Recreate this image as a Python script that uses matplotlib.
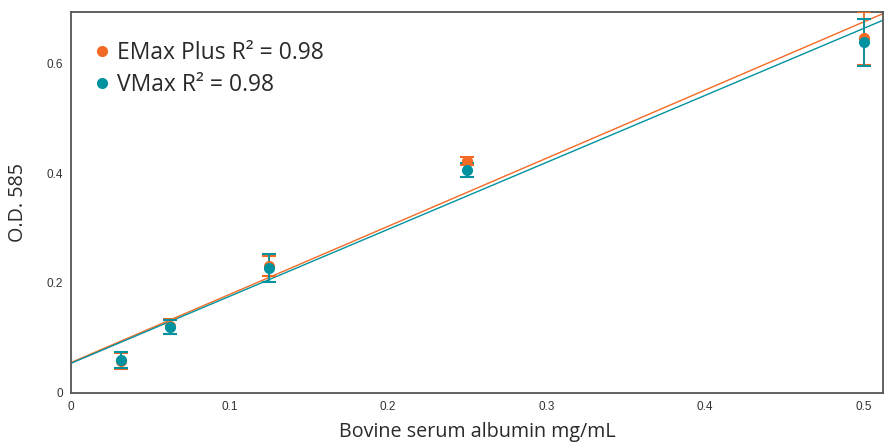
import numpy as np
import matplotlib
matplotlib.use("Agg")
import matplotlib.pyplot as plt

# BSA standard curve data
bsa_conc = [0.03125, 0.0625, 0.125, 0.25, 0.5]
emax_od = [0.058, 0.121, 0.231, 0.422, 0.645]
emax_err = [0.014, 0.013, 0.018, 0.008, 0.048]
vmax_od = [0.060, 0.120, 0.227, 0.405, 0.638]
vmax_err = [0.014, 0.013, 0.025, 0.013, 0.043]

series_labels = ["EMax Plus R² = 0.98", "VMax R² = 0.98"]
orange = "#F26A24"
teal = "#00929F"

fig = plt.figure(figsize=(8.9, 4.44), dpi=100)
ax = fig.add_axes([0.0798, 0.115, 0.912, 0.858])

xfit = np.array([0, 0.512])
for y, err, col, lab in [(emax_od, emax_err, orange, series_labels[0]),
                         (vmax_od, vmax_err, teal, series_labels[1])]:
    slope, icpt = np.polyfit(bsa_conc, y, 1)
    ax.plot(xfit, slope * xfit + icpt, color=col, lw=1.0, zorder=2)
    ax.errorbar(bsa_conc, y, yerr=err, fmt="none", ecolor=col, elinewidth=1.3,
                capsize=5, capthick=1.5, zorder=3)
    ax.plot(bsa_conc, y, "o", color=col, ms=7, label=lab, zorder=4)

ax.set_xlim(0, 0.512)
ax.set_ylim(0, 0.693)
ax.set_xticks([0, 0.1, 0.2, 0.3, 0.4, 0.5])
ax.set_xticklabels(["0", "0.1", "0.2", "0.3", "0.4", "0.5"])
ax.set_yticks([0, 0.2, 0.4, 0.6])
ax.set_yticklabels(["0", "0.2", "0.4", "0.6"])
ax.tick_params(length=0, labelsize=8.5, colors="#333333", pad=6)
for t in ax.get_xticklabels() + ax.get_yticklabels():
    t.set_family("Liberation Sans")

for s in ax.spines.values():
    s.set_color("#555555")
    s.set_linewidth(1.3)

ax.set_xlabel("Bovine serum albumin mg/mL", fontsize=14.2, color="#2a2a2a",
              labelpad=6, family="Open Sans")
ax.set_ylabel("O.D. 585", fontsize=14.2, color="#2a2a2a", labelpad=13, family="Open Sans")

leg = ax.legend(loc="upper left", frameon=False, prop={"family": "Open Sans", "size": 16.5},
                handletextpad=0.1, handlelength=1.1, borderaxespad=0.6,
                labelspacing=0.35, bbox_to_anchor=(-0.006, 0.985))
for t in leg.get_texts():
    t.set_color("#2a2a2a")

fig.savefig("out.png", dpi=100)
